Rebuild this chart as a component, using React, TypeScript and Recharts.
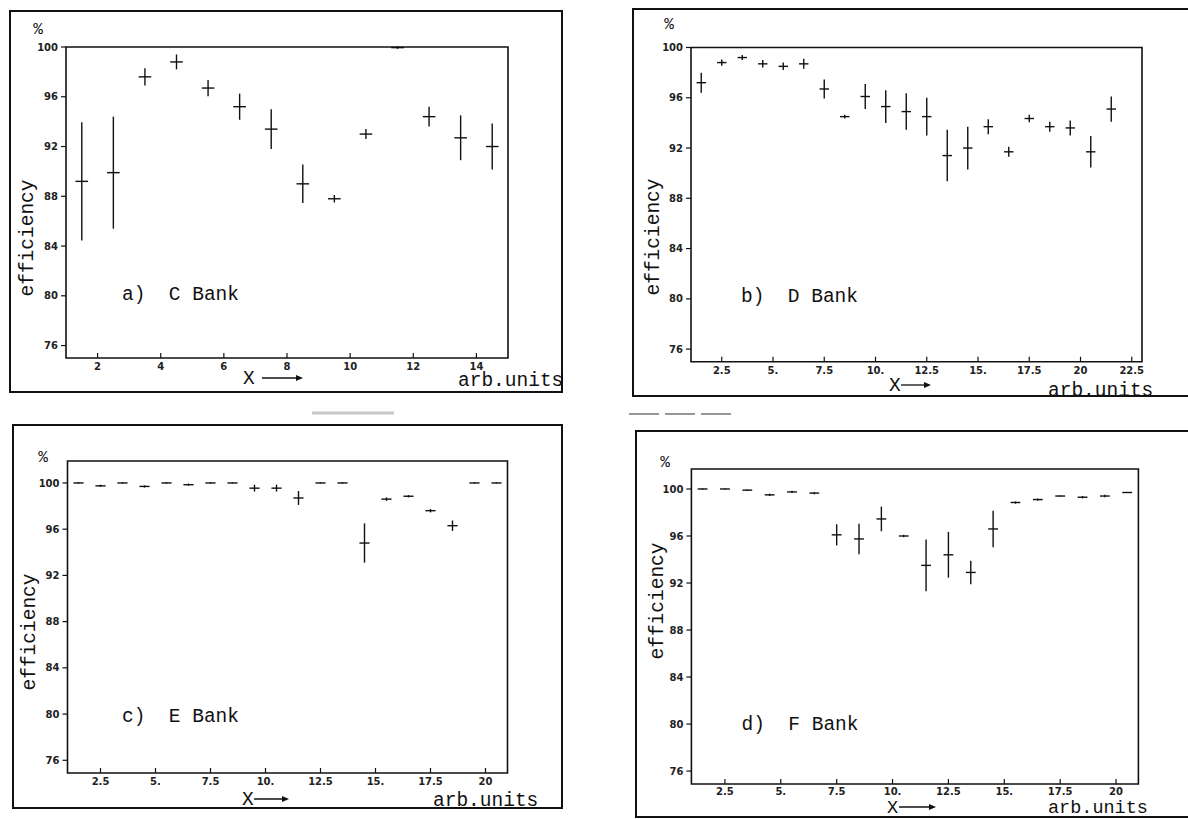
import React from 'react';
import { ScatterChart, Scatter, XAxis, YAxis, ErrorBar, ReferenceArea } from 'recharts';

// ---------- data ----------
const yTicks = [76, 80, 84, 88, 92, 96, 100];

// a) C Bank
const xA = [1.5, 2.5, 3.5, 4.5, 5.5, 6.5, 7.5, 8.5, 9.5, 10.5, 11.5, 12.5, 13.5, 14.5];
const yA = [89.2, 89.9, 97.6, 98.8, 96.7, 95.2, 93.4, 89.0, 87.8, 93.0, 99.95, 94.4, 92.7, 92.0];
const errA = [4.75, 4.5, 0.7, 0.6, 0.65, 1.05, 1.6, 1.55, 0.3, 0.4, 0.1, 0.8, 1.8, 1.85];
const xTicksA = [2, 4, 6, 8, 10, 12, 14];
const xTickLabelsA = ['2', '4', '6', '8', '10', '12', '14'];

// b) D Bank
const xB = [1.5, 2.5, 3.5, 4.5, 5.5, 6.5, 7.5, 8.5, 9.5, 10.5, 11.5, 12.5, 13.5, 14.5, 15.5, 16.5, 17.5, 18.5, 19.5, 20.5, 21.5];
const yB = [97.2, 98.8, 99.2, 98.7, 98.5, 98.7, 96.7, 94.5, 96.1, 95.3, 94.9, 94.5, 91.4, 92.0, 93.7, 91.7, 94.35, 93.7, 93.6, 91.7, 95.1];
const errB = [0.8, 0.25, 0.2, 0.3, 0.3, 0.4, 0.75, 0.15, 1.0, 1.3, 1.45, 1.5, 2.05, 1.7, 0.6, 0.4, 0.3, 0.4, 0.6, 1.25, 1.0];
const xTicksB = [2.5, 5, 7.5, 10, 12.5, 15, 17.5, 20, 22.5];
const xTickLabelsB = ['2.5', '5.', '7.5', '10.', '12.5', '15.', '17.5', '20', '22.5'];

// c) E Bank
const xC = [1.5, 2.5, 3.5, 4.5, 5.5, 6.5, 7.5, 8.5, 9.5, 10.5, 11.5, 12.5, 13.5, 14.5, 15.5, 16.5, 17.5, 18.5, 19.5, 20.5];
const yC = [100, 99.75, 100, 99.7, 100, 99.85, 100, 100, 99.55, 99.55, 98.7, 100, 100, 94.8, 98.6, 98.85, 97.6, 96.3, 100, 100];
const errC = [0.05, 0.1, 0.05, 0.1, 0.05, 0.1, 0.05, 0.05, 0.3, 0.3, 0.6, 0.05, 0.05, 1.7, 0.15, 0.1, 0.15, 0.45, 0.05, 0.05];
const xTicksC = [2.5, 5, 7.5, 10, 12.5, 15, 17.5, 20];
const xTickLabelsC = ['2.5', '5.', '7.5', '10.', '12.5', '15.', '17.5', '20'];

// d) F Bank
const xD = [1.5, 2.5, 3.5, 4.5, 5.5, 6.5, 7.5, 8.5, 9.5, 10.5, 11.5, 12.5, 13.5, 14.5, 15.5, 16.5, 17.5, 18.5, 19.5, 20.5];
const yD = [100, 100, 99.9, 99.5, 99.75, 99.65, 96.1, 95.75, 97.45, 96.0, 93.5, 94.4, 92.9, 96.6, 98.85, 99.1, 99.4, 99.3, 99.4, 99.7];
const errD = [0.05, 0.05, 0.05, 0.1, 0.1, 0.1, 0.9, 1.3, 1.05, 0.1, 2.2, 1.95, 1.0, 1.55, 0.1, 0.1, 0.05, 0.1, 0.1, 0.05];
const xTicksD = [2.5, 5, 7.5, 10, 12.5, 15, 17.5, 20];
const xTickLabelsD = ['2.5', '5.', '7.5', '10.', '12.5', '15.', '17.5', '20'];

// ---------- layout ----------
const INK = '#111';
const MONO = '"Liberation Mono", "DejaVu Sans Mono", monospace';
const TICKFONT = '"DejaVu Sans", sans-serif';
const YW = 40;
const XH = 24;

type Cfg = {
  xs: number[]; ys: number[]; errs: number[]; half: number;
  xDomain: [number, number]; yDomain: [number, number];
  xTicks: number[]; xTickLabels: string[];
  frame: { L: number; T: number; W: number; H: number; noRight?: boolean };
  plot: { x0: number; y0: number; x1: number; y1: number };
  tickDy: number;
};

const EmptyShape = () => <g />;

function Panel(p: Cfg) {
  const data = p.xs.map((x, i) => ({ x, y: p.ys[i], ey: p.errs[i], ex: p.half }));
  const { L, T, W, H } = p.frame;
  const margin = {
    top: p.plot.y0 - T,
    left: p.plot.x0 - L - YW,
    right: L + W - p.plot.x1,
    bottom: T + H - p.plot.y1 - XH,
  };
  const renderXTick = (props: any) => {
    const { x, y, payload } = props;
    const idx = p.xTicks.indexOf(payload.value);
    return (
      <g>
        <line x1={x} x2={x} y1={y} y2={y - 5} stroke={INK} strokeWidth={1.2} />
        <text x={x} y={y + p.tickDy} textAnchor="middle" fontFamily={TICKFONT} fontWeight="bold" fontSize={10} fill="#222">
          {p.xTickLabels[idx]}
        </text>
      </g>
    );
  };
  const b = `2px solid ${INK}`;
  return (
    <>
      <div
        style={{
          position: 'absolute', left: L, top: T, width: W, height: H, boxSizing: 'border-box',
          borderTop: b, borderLeft: b, borderBottom: b, borderRight: p.frame.noRight ? 'none' : b,
        }}
      />
      <div style={{ position: 'absolute', left: L, top: T }}>
        <ScatterChart width={W} height={H} margin={margin}>
          <XAxis
            type="number" dataKey="x" domain={p.xDomain} ticks={p.xTicks} allowDataOverflow
            axisLine={false} tickLine={false} tickSize={0} tickMargin={0} tick={renderXTick}
            height={XH} interval={0}
          />
          <YAxis
            type="number" dataKey="y" domain={p.yDomain} ticks={yTicks} allowDataOverflow
            axisLine={false} tickLine={{ stroke: INK, strokeWidth: 1.2 }} tickSize={5} tickMargin={3}
            width={YW} interval={0}
            tick={{ fontFamily: TICKFONT, fontSize: 10, fontWeight: 'bold', fill: '#222' }}
          />
          <ReferenceArea
            x1={p.xDomain[0]} x2={p.xDomain[1]} y1={p.yDomain[0]} y2={p.yDomain[1]}
            fill="none" fillOpacity={0} stroke={INK} strokeWidth={1.6} ifOverflow="visible"
          />
          <Scatter data={data} isAnimationActive={false} shape={EmptyShape}>
            <ErrorBar dataKey="ey" direction="y" width={0} stroke={INK} strokeWidth={1.4} isAnimationActive={false} />
            <ErrorBar dataKey="ex" direction="x" width={0} stroke={INK} strokeWidth={1.4} isAnimationActive={false} />
          </Scatter>
        </ScatterChart>
      </div>
    </>
  );
}

type TextCfg = {
  pct: [number, number];
  eff: [number, number];
  title: string; titlePos: [number, number];
  xPos: [number, number]; arrow: [number, number];
  arbPos: [number, number];
  bottomFs: number;
};

function PanelText({ t }: { t: TextCfg }) {
  const fs = 19.5;
  const ay = t.xPos[1] - 6;
  return (
    <g fill={INK} fontFamily={MONO}>
      <text x={t.pct[0]} y={t.pct[1]} textAnchor="middle" dominantBaseline="central" fontSize={16}>%</text>
      <text
        x={t.eff[0]} y={t.eff[1]} textAnchor="middle" dominantBaseline="central" fontSize={fs}
        transform={`rotate(-90 ${t.eff[0]} ${t.eff[1]})`}
      >
        efficiency
      </text>
      <text x={t.titlePos[0]} y={t.titlePos[1]} fontSize={fs} style={{ whiteSpace: 'pre' }}>{t.title}</text>
      <text x={t.xPos[0]} y={t.xPos[1]} fontSize={t.bottomFs}>X</text>
      <line x1={t.arrow[0]} x2={t.arrow[1] - 2} y1={ay} y2={ay} stroke={INK} strokeWidth={1.3} />
      <polygon points={`${t.arrow[1]},${ay} ${t.arrow[1] - 7},${ay - 3} ${t.arrow[1] - 7},${ay + 3}`} fill={INK} />
      <text x={t.arbPos[0]} y={t.arbPos[1]} fontSize={t.bottomFs}>arb.units</text>
    </g>
  );
}

const cfgA: Cfg = {
  xs: xA, ys: yA, errs: errA, half: 0.2,
  xDomain: [1, 15], yDomain: [75, 100], xTicks: xTicksA, xTickLabels: xTickLabelsA,
  frame: { L: 9, T: 10, W: 554, H: 383 },
  plot: { x0: 66, y0: 47, x1: 508, y1: 358 },
  tickDy: 12,
};
const cfgB: Cfg = {
  xs: xB, ys: yB, errs: errB, half: 0.23,
  xDomain: [1, 23], yDomain: [75, 100], xTicks: xTicksB, xTickLabels: xTickLabelsB,
  frame: { L: 632, T: 8, W: 566, H: 389, noRight: true },
  plot: { x0: 691, y0: 47.5, x1: 1142, y1: 361.7 },
  tickDy: 12,
};
const cfgC: Cfg = {
  xs: xC, ys: yC, errs: errC, half: 0.23,
  xDomain: [1, 21], yDomain: [74.9, 101.9], xTicks: xTicksC, xTickLabels: xTickLabelsC,
  frame: { L: 11.5, T: 424, W: 551, H: 385 },
  plot: { x0: 67, y0: 461, x1: 507, y1: 773 },
  tickDy: 12,
};
const cfgD: Cfg = {
  xs: xD, ys: yD, errs: errD, half: 0.22,
  xDomain: [1, 21], yDomain: [74.9, 101.7], xTicks: xTicksD, xTickLabels: xTickLabelsD,
  frame: { L: 634.6, T: 430, W: 563, H: 388, noRight: true },
  plot: { x0: 691, y0: 469, x1: 1138, y1: 784 },
  tickDy: 11,
};

const textA: TextCfg = {
  pct: [38, 30], eff: [28, 238], title: 'a)  C Bank', titlePos: [122, 300],
  xPos: [243, 384], arrow: [262, 303], arbPos: [458, 386], bottomFs: 19.5,
};
const textB: TextCfg = {
  pct: [669, 25], eff: [654, 237], title: 'b)  D Bank', titlePos: [741, 302],
  xPos: [889, 391], arrow: [901, 931], arbPos: [1048, 396], bottomFs: 19.5,
};
const textC: TextCfg = {
  pct: [43, 458], eff: [30, 632], title: 'c)  E Bank', titlePos: [122, 722],
  xPos: [242, 805], arrow: [254, 289], arbPos: [433, 806], bottomFs: 19.5,
};
const textD: TextCfg = {
  pct: [665, 463], eff: [658, 601], title: 'd)  F Bank', titlePos: [741.5, 730],
  xPos: [887, 813], arrow: [899, 936], arbPos: [1048, 813], bottomFs: 18.5,
};

export default function App() {
  return (
    <div
      style={{
        position: 'absolute', left: 0, top: 0, width: 1188, height: 819,
        overflow: 'hidden', background: '#fff',
      }}
    >
      <Panel {...cfgA} />
      <Panel {...cfgB} />
      <Panel {...cfgC} />
      <Panel {...cfgD} />
      <svg width={1188} height={819} style={{ position: 'absolute', left: 0, top: 0, pointerEvents: 'none' }}>
        <PanelText t={textA} />
        <PanelText t={textB} />
        <PanelText t={textC} />
        <PanelText t={textD} />
        <line x1={312} x2={394} y1={413} y2={413} stroke="#c8c8c8" strokeWidth={3} />
        <line x1={629} x2={734} y1={414} y2={414} stroke="#333" strokeWidth={1.2} strokeDasharray="30 6" />
      </svg>
    </div>
  );
}
